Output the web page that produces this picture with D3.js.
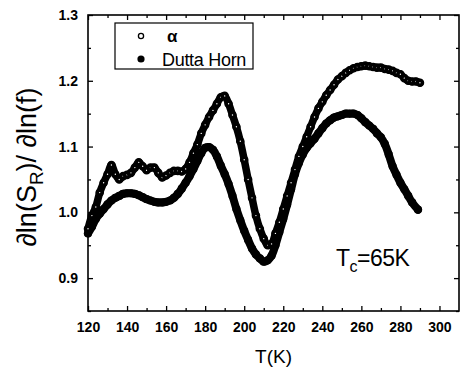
<!DOCTYPE html>
<html>
<head>
<meta charset="utf-8">
<script src="https://cdn.jsdelivr.net/npm/d3@7"></script>
<style>
  html, body { margin: 0; padding: 0; background: #fff; }
  svg { display: block; font-family: "Liberation Sans", Arial, sans-serif; }
</style>
</head>
<body>
<svg id="chart" width="468" height="372"></svg>
<script>
// Temperature grid (K) for both measured series
const temps = [120,122,124,126,128,130,132,134,136,138,140,142,144,146,148,150,152,154,156,158,
  160,162,164,166,168,170,172,174,176,178,180,182,184,186,188,190,192,194,196,198,
  200,202,204,206,208,210,212,214,216,218,220,222,224,226,228,230,232,234,236,238,
  240,242,244,246,248,250,252,254,256,258,260,262,264,266,268,270,272,274,276,278,
  280,282,284,286,288,290];

// Measured spectral exponent alpha
const alphaVals = [0.975,0.995,1.008,1.030,1.045,1.058,1.072,1.058,1.050,1.055,1.057,1.060,1.068,1.076,1.070,1.064,1.068,1.068,1.060,1.053,
  1.056,1.060,1.063,1.063,1.062,1.066,1.076,1.090,1.103,1.120,1.133,1.145,1.155,1.165,1.175,1.177,1.165,1.148,1.130,1.108,
  1.080,1.050,1.022,0.995,0.975,0.960,0.950,0.952,0.968,0.985,1.005,1.025,1.045,1.065,1.085,1.100,1.115,1.130,1.145,1.158,
  1.168,1.178,1.186,1.194,1.202,1.207,1.212,1.216,1.219,1.221,1.222,1.223,1.222,1.221,1.220,1.220,1.218,1.217,1.215,1.212,
  1.210,1.204,1.200,1.199,1.199,1.197];

// Dutta-Horn prediction (last point ends at 289 K)
const duttaVals = [0.968,0.978,0.990,0.998,1.005,1.012,1.018,1.022,1.025,1.028,1.029,1.029,1.028,1.026,1.023,1.020,1.018,1.016,1.015,1.015,
  1.016,1.018,1.022,1.028,1.036,1.045,1.055,1.066,1.078,1.090,1.098,1.099,1.095,1.085,1.071,1.058,1.043,1.025,1.005,0.988,
  0.972,0.958,0.945,0.936,0.930,0.925,0.927,0.934,0.950,0.970,0.990,1.012,1.035,1.058,1.075,1.088,1.098,1.105,1.112,1.120,
  1.128,1.135,1.140,1.144,1.146,1.148,1.150,1.150,1.150,1.148,1.143,1.137,1.132,1.127,1.120,1.114,1.104,1.088,1.070,1.057,
  1.045,1.035,1.025,1.015,1.004];
const duttaLastT = 289;

const xMajorTicks = [120,140,160,180,200,220,240,260,280,300];
const yMajorTicks = [0.9,1.0,1.1,1.2,1.3];
const legendLabels = ["\u03b1", "Dutta Horn"];

const alphaData = temps.map((t, i) => ({t, v: alphaVals[i]}));
const duttaData = duttaVals.map((v, i) => ({t: i === duttaVals.length - 1 ? duttaLastT : temps[i], v}));

const svg = d3.select("#chart");
const L = 88, R = 459, T = 15, B = 311;

const x = d3.scaleLinear().domain([120, 310]).range([L, R]);
const y = d3.scaleLinear().domain([0.85, 1.3]).range([B, T]);

const xMinor = d3.range(130, 310, 20);
const yMinor = [0.85,0.95,1.05,1.15,1.25];

// Axes with inward ticks on all four sides
function drawAxis(axis, transform) {
  const g = svg.append("g").attr("transform", transform).call(axis);
  g.select(".domain").remove();
  g.selectAll("line").attr("stroke", "#000").attr("stroke-width", 1.3);
  return g;
}
const tickFmtY = d3.format(".1f");
const gxB = drawAxis(d3.axisBottom(x).tickValues(xMajorTicks).tickSize(-5).tickPadding(11), `translate(0,${B})`);
gxB.selectAll("text").attr("font-size", 14).attr("font-weight", "bold").attr("fill", "#000");
drawAxis(d3.axisBottom(x).tickValues(xMinor).tickSize(-3).tickFormat(""), `translate(0,${B})`);
drawAxis(d3.axisTop(x).tickValues(xMajorTicks).tickSize(-5).tickFormat(""), `translate(0,${T})`);
drawAxis(d3.axisTop(x).tickValues(xMinor).tickSize(-3).tickFormat(""), `translate(0,${T})`);

const gyL = drawAxis(d3.axisLeft(y).tickValues(yMajorTicks).tickSize(-5).tickPadding(10).tickFormat(tickFmtY), `translate(${L},0)`);
gyL.selectAll("text").attr("font-size", 14).attr("font-weight", "bold").attr("fill", "#000");
drawAxis(d3.axisLeft(y).tickValues(yMinor).tickSize(-3).tickFormat(""), `translate(${L},0)`);
drawAxis(d3.axisRight(y).tickValues(yMajorTicks).tickSize(-5).tickFormat(""), `translate(${R},0)`);
drawAxis(d3.axisRight(y).tickValues(yMinor).tickSize(-3).tickFormat(""), `translate(${R},0)`);

// Plot frame
svg.append("rect").attr("x", L).attr("y", T).attr("width", R - L).attr("height", B - T)
  .attr("fill", "none").attr("stroke", "#000").attr("stroke-width", 1.6);

// Data series
const line = d3.line().x(d => x(d.t)).y(d => y(d.v)).curve(d3.curveCatmullRom);
const plot = svg.append("g");

plot.append("path").datum(duttaData).attr("d", line)
  .attr("fill", "none").attr("stroke", "#000").attr("stroke-width", 8)
  .attr("stroke-linecap", "round").attr("stroke-linejoin", "round");
plot.selectAll(".dh").data(duttaData).join("circle").attr("class", "dh")
  .attr("cx", d => x(d.t)).attr("cy", d => y(d.v)).attr("r", 4.1).attr("fill", "#000");

plot.append("path").datum(alphaData).attr("d", line)
  .attr("fill", "none").attr("stroke", "#000").attr("stroke-width", 7.5)
  .attr("stroke-linecap", "round").attr("stroke-linejoin", "round");
plot.selectAll(".al").data(alphaData).join("circle").attr("class", "al")
  .attr("cx", d => x(d.t)).attr("cy", d => y(d.v)).attr("r", 2.5)
  .attr("fill", "#fff").attr("stroke", "#000").attr("stroke-width", 3.6);

// Legend
const lg = svg.append("g");
lg.append("rect").attr("x", 115).attr("y", 23).attr("width", 138).attr("height", 46)
  .attr("fill", "#fff").attr("stroke", "#000").attr("stroke-width", 1.2);
lg.append("circle").attr("cx", 141).attr("cy", 36).attr("r", 2.6)
  .attr("fill", "#fff").attr("stroke", "#000").attr("stroke-width", 1.3);
lg.append("text").attr("x", 167).attr("y", 42).attr("font-size", 17).attr("font-weight", "bold").text(legendLabels[0]);
lg.append("circle").attr("cx", 141).attr("cy", 59).attr("r", 3.6).attr("fill", "#000");
lg.append("text").attr("x", 162).attr("y", 66).attr("font-size", 18).attr("letter-spacing", -0.3).text(legendLabels[1]);

// Annotation
const ann = svg.append("text").attr("x", 336).attr("y", 266).attr("font-size", 23).attr("letter-spacing", -0.5);
ann.append("tspan").text("T");
ann.append("tspan").attr("font-size", 16).attr("dy", 6).text("c");
ann.append("tspan").attr("dy", -6).text("=65K");

// Axis titles
svg.append("text").attr("x", (L + R) / 2).attr("y", 363).attr("text-anchor", "middle")
  .attr("font-size", 19).text("T(K)");

const yt = svg.append("text").attr("transform", "translate(36,167) rotate(-90)")
  .attr("text-anchor", "middle").attr("font-size", 27);
yt.append("tspan").text("\u2202ln(S");
yt.append("tspan").attr("font-size", 19).attr("dy", 7).text("R");
yt.append("tspan").attr("dy", -7).text(")/ \u2202ln(f)");
</script>
</body>
</html>
